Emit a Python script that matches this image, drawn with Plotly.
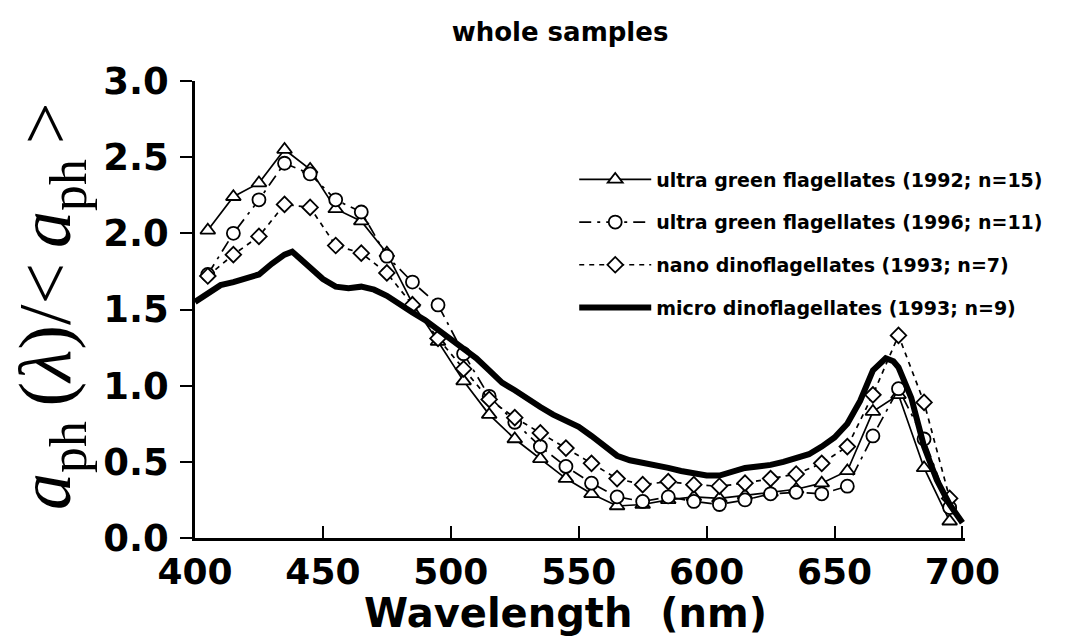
import plotly.graph_objects as go

# ---- data ----
wl_markers = [405, 415, 425, 435, 445, 455, 465, 475, 485, 495, 505, 515, 525, 535, 545,
              555, 565, 575, 585, 595, 605, 615, 625, 635, 645, 655, 665, 675, 685, 695]

ultra_1992 = [2.02, 2.24, 2.33, 2.55, 2.42, 2.16, 2.08, 1.87, 1.54, 1.29, 1.03, 0.81, 0.65, 0.52, 0.39,
              0.29, 0.21, 0.22, 0.25, 0.27, 0.26, 0.28, 0.30, 0.32, 0.36, 0.44, 0.83, 0.94, 0.46, 0.11]

ultra_1996 = [1.73, 2.00, 2.22, 2.46, 2.39, 2.22, 2.14, 1.85, 1.68, 1.53, 1.21, 0.93, 0.76, 0.60, 0.47,
              0.36, 0.27, 0.24, 0.27, 0.24, 0.22, 0.25, 0.29, 0.30, 0.29, 0.34, 0.67, 0.98, 0.65, 0.20]

nano_1993 = [1.72, 1.86, 1.98, 2.19, 2.17, 1.92, 1.87, 1.74, 1.53, 1.31, 1.11, 0.91, 0.79, 0.69, 0.59,
             0.49, 0.39, 0.35, 0.37, 0.35, 0.34, 0.36, 0.39, 0.42, 0.49, 0.60, 0.94, 1.33, 0.89, 0.26]

wl_micro = [400, 405, 410, 415, 420, 425, 430, 435, 438, 440, 445, 450, 455, 460, 465, 470, 475, 480,
            485, 490, 495, 500, 505, 510, 515, 520, 525, 530, 535, 540, 545, 550, 555, 560, 565, 570,
            575, 580, 585, 590, 595, 600, 605, 610, 615, 620, 625, 630, 635, 640, 645, 650, 655, 660,
            665, 670, 673, 675, 680, 685, 690, 695, 700]
micro_1993 = [1.55, 1.60, 1.66, 1.68, 1.70, 1.73, 1.80, 1.86, 1.88, 1.85, 1.78, 1.70, 1.65, 1.64, 1.65,
              1.63, 1.59, 1.53, 1.48, 1.43, 1.37, 1.31, 1.25, 1.18, 1.10, 1.02, 0.97, 0.91, 0.86, 0.81,
              0.77, 0.73, 0.67, 0.60, 0.54, 0.51, 0.49, 0.47, 0.46, 0.44, 0.42, 0.41, 0.41, 0.44, 0.46,
              0.47, 0.48, 0.50, 0.52, 0.55, 0.60, 0.66, 0.75, 0.90, 1.10, 1.18, 1.16, 1.12, 0.92, 0.60,
              0.38, 0.22, 0.10]

names = ["ultra green flagellates (1992; n=15)",
         "ultra green flagellates (1996; n=11)",
         "nano dinoflagellates (1993; n=7)",
         "micro dinoflagellates (1993; n=9)"]

x_ticks = [400, 450, 500, 550, 600, 650, 700]
y_ticks = [0.0, 0.5, 1.0, 1.5, 2.0, 2.5, 3.0]

SANS = "DejaVu Sans, Liberation Sans, Arial, sans-serif"

# ---- figure ----
fig = go.Figure()
mk = dict(color="white", line=dict(color="black", width=1.8))

fig.add_trace(go.Scatter(x=wl_markers, y=ultra_1992, name=names[0], mode="lines+markers",
                         line=dict(color="black", width=1.7),
                         marker=dict(symbol="triangle-up", size=13, **mk),
                         legendgroup="a"))
fig.add_trace(go.Scatter(x=wl_markers, y=ultra_1996, name=names[1], mode="lines+markers",
                         line=dict(color="black", width=1.7, dash="12px,6px,3px,6px"),
                         marker=dict(symbol="circle", size=13, **mk),
                         legendgroup="b"))
fig.add_trace(go.Scatter(x=wl_markers, y=nano_1993, name=names[2], mode="lines+markers",
                         line=dict(color="black", width=1.7, dash="5px,5px"),
                         marker=dict(symbol="diamond", size=12, **mk),
                         legendgroup="c"))
fig.add_trace(go.Scatter(x=wl_micro, y=micro_1993, name=names[3], mode="lines",
                         line=dict(color="black", width=6),
                         legendgroup="d"))

fig.update_layout(
    width=1073, height=638,
    margin=dict(l=195, r=108, t=81, b=100),
    paper_bgcolor="white", plot_bgcolor="white",
    font=dict(family=SANS, color="black"),
    title=dict(text="whole samples", x=560 / 1073, xanchor="center", xref="container",
               y=1 - 32 / 638, yanchor="middle", yref="container",
               font=dict(size=26, weight="bold", color="black", family=SANS)),
    showlegend=True,
    legend=dict(x=0.4925, y=0.826, xanchor="left", yanchor="top",
                bgcolor="rgba(0,0,0,0)", tracegroupgap=15,
                font=dict(size=19, weight="bold", color="black", family=SANS),
                itemwidth=72),
    xaxis=dict(range=[400, 701], tickvals=x_ticks, ticktext=[str(v) for v in x_ticks],
               showgrid=False, zeroline=False, showline=True, linecolor="black", linewidth=2.5,
               ticks="inside", ticklen=12, tickwidth=2, tickcolor="black",
               tickfont=dict(size=36, weight="bold", color="black", family=SANS)),
    yaxis=dict(range=[0, 3.0], tickvals=y_ticks, ticktext=["%.1f" % v for v in y_ticks],
               showgrid=False, zeroline=False, showline=True, linecolor="black", linewidth=2.5,
               ticks="outside", ticklen=12, tickwidth=2, tickcolor="black",
               ticklabelstandoff=4,
               tickfont=dict(size=37, weight="bold", color="black", family=SANS)),
)

fig.add_annotation(text="Wavelength\u00a0\u00a0(nm)", xref="paper", yref="paper",
                   x=(565 - 195) / 770, y=-(613 - 538) / 457, xanchor="center", yanchor="middle",
                   showarrow=False, font=dict(size=40, weight="bold", color="black", family=SANS))

fig.add_annotation(text="<i>a</i><sub>ph</sub>\u2009(<i>λ</i>)/&lt;\u2009<i>a</i><sub>ph</sub>\u2009&gt;",
                   xref="paper", yref="paper",
                   x=-(195 - 50) / 770, y=(538 - 307) / 457, xanchor="center", yanchor="middle",
                   textangle=-90, showarrow=False,
                   font=dict(size=74, family="Liberation Serif, Times New Roman, serif", color="black"))

fig.write_html("out.html")
